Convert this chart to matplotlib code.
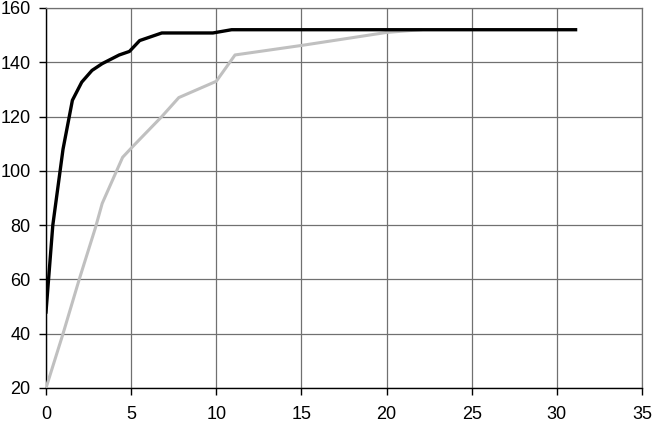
import matplotlib
matplotlib.use("Agg")
import matplotlib.pyplot as plt

plt.rcParams['font.family'] = ['Liberation Sans', 'DejaVu Sans']

black_x = [0, 0.4, 1.0, 1.55, 2.1, 2.7, 3.3, 4.3, 4.9, 5.5, 6.8, 9.8, 10.9, 31.1]
black_y = [48, 80, 108, 126, 132.7, 137, 139.5, 142.7, 144, 148, 150.8, 150.8, 152, 152]

gray_x = [0, 1.0, 1.95, 2.9, 3.3, 4.5, 5.1, 6.8, 7.8, 10.0, 11.1, 15.0, 20.0, 22.0]
gray_y = [20, 40, 60, 79, 88, 105, 109, 120, 127, 133, 142.7, 146.2, 151, 152]

x_ticks = [0, 5, 10, 15, 20, 25, 30, 35]
y_ticks = [20, 40, 60, 80, 100, 120, 140, 160]

fig = plt.figure(figsize=(6.54, 4.25), dpi=100)
ax = fig.add_axes([46/654, (425-388)/425, (642-46)/654, (388-8)/425])

ax.plot(gray_x, gray_y, color='#c0c0c0', lw=2.2, solid_joinstyle='round', zorder=3)
ax.plot(black_x, black_y, color='black', lw=2.4, solid_joinstyle='round', zorder=4)

ax.set_xlim(0, 35)
ax.set_ylim(20, 160)
ax.set_xticks(x_ticks)
ax.set_yticks(y_ticks)
ax.grid(True, color='#707070', lw=0.9)
ax.set_axisbelow(True)
for s in ['top', 'right']:
    ax.spines[s].set_color('#707070')
    ax.spines[s].set_linewidth(0.9)
for s in ['left', 'bottom']:
    ax.spines[s].set_color('black')
    ax.spines[s].set_linewidth(1.0)
ax.tick_params(direction='out', length=5, width=1, labelsize=13, colors='black')
ax.tick_params(axis='x', pad=8)
ax.tick_params(axis='y', pad=6)

fig.savefig('out.png', dpi=100)
